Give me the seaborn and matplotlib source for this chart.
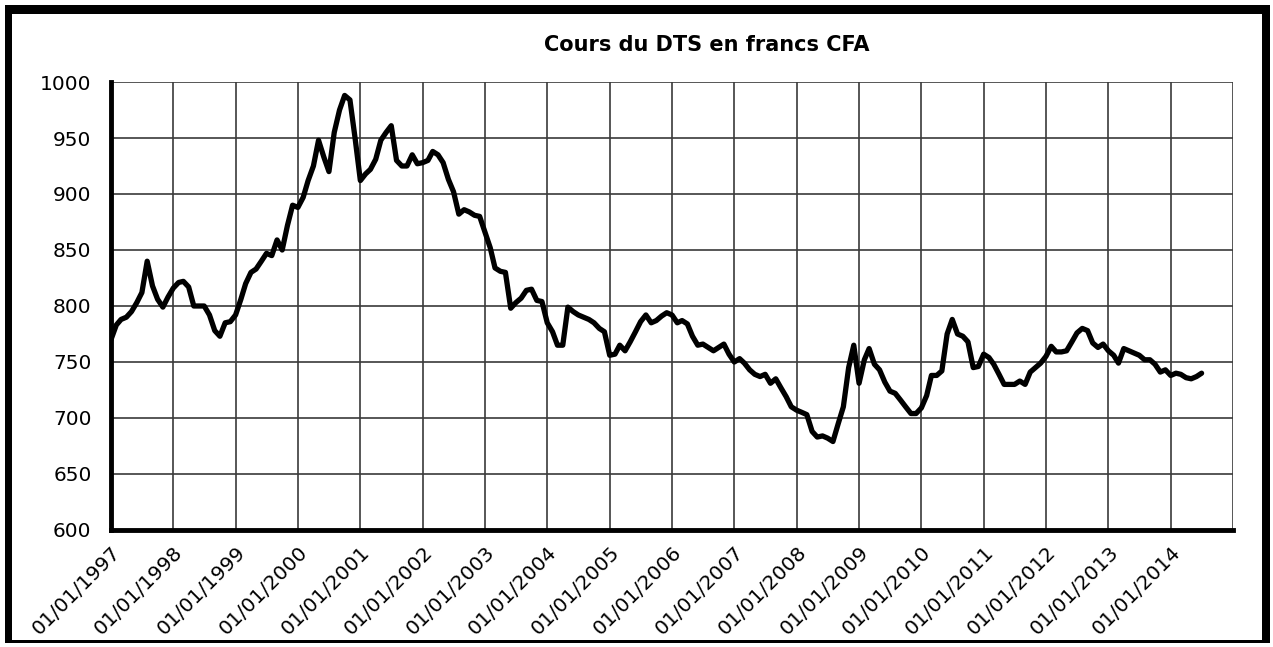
import pandas as pd
import numpy as np
import matplotlib.pyplot as plt
from matplotlib.patches import Rectangle
import seaborn as sns

# Monthly values (francs CFA per SDR), Jan 1997 -> Jul 2014
y1997 = [770, 783, 788, 790, 795, 803, 812, 840, 818, 806, 799, 808]
y1998 = [816, 821, 822, 817, 800, 800, 800, 792, 778, 773, 785, 786]
y1999 = [792, 806, 820, 830, 833, 840, 847, 845, 859, 850, 872, 890]
y2000 = [888, 897, 912, 925, 948, 933, 920, 955, 975, 988, 984, 950]
y2001 = [912, 918, 922, 931, 948, 955, 961, 930, 925, 925, 935, 927]
y2002 = [928, 930, 938, 935, 928, 913, 902, 882, 886, 884, 881, 880]
y2003 = [866, 852, 834, 831, 830, 798, 803, 807, 814, 815, 805, 804]
y2004 = [785, 777, 765, 765, 799, 795, 792, 790, 788, 785, 780, 777]
y2005 = [756, 757, 765, 760, 768, 777, 786, 792, 785, 787, 791, 794]
y2006 = [792, 785, 787, 784, 773, 765, 766, 763, 760, 763, 766, 757]
y2007 = [750, 753, 749, 743, 739, 737, 739, 731, 735, 727, 719, 710]
y2008 = [707, 705, 703, 688, 683, 684, 682, 679, 695, 710, 745, 765]
y2009 = [731, 752, 762, 748, 743, 732, 724, 722, 716, 710, 704, 704]
y2010 = [709, 720, 738, 738, 742, 775, 788, 775, 773, 768, 745, 746]
y2011 = [757, 754, 748, 739, 730, 730, 730, 733, 730, 741, 745, 749]
y2012 = [755, 764, 759, 759, 760, 768, 776, 780, 778, 767, 763, 766]
y2013 = [760, 756, 749, 762, 760, 758, 756, 752, 752, 748, 741, 743]
y2014 = [738, 740, 739, 736, 735, 737, 740]

years = list(range(1997, 2016))
tick_labels = ["01/01/%d" % y for y in years[:-1]] + [""]
y_ticks = [600, 650, 700, 750, 800, 850, 900, 950, 1000]

values = (y1997 + y1998 + y1999 + y2000 + y2001 + y2002 + y2003 + y2004 + y2005
          + y2006 + y2007 + y2008 + y2009 + y2010 + y2011 + y2012 + y2013 + y2014)
df = pd.DataFrame({
    "date": pd.date_range("1997-01-01", periods=len(values), freq="MS"),
    "dts": values,
})

sns.set_style("white")
plt.rcParams["font.family"] = ["DejaVu Sans"]
plt.rcParams["text.color"] = "black"
plt.rcParams["xtick.color"] = "black"
plt.rcParams["ytick.color"] = "black"
plt.rcParams["axes.edgecolor"] = "black"

fig = plt.figure(figsize=(12.73, 6.47), dpi=100)
W, H = 1273, 647
ax = fig.add_axes([111 / W, 1 - 530 / H, (1233 - 111) / W, (530 - 82) / H])

# vertical grid lines (one per year) and horizontal ones
for y in years:
    ax.axvline(pd.Timestamp(f"{y}-01-01"), color="#3a3a3a", lw=1.2, zorder=1)
for v in y_ticks:
    ax.axhline(v, color="#3a3a3a", lw=1.2, zorder=1)

sns.lineplot(data=df, x="date", y="dts", color="black", linewidth=3.8, ax=ax, zorder=3)

ax.set_xlim(pd.Timestamp("1997-01-01"), pd.Timestamp("2015-01-01"))
ax.set_ylim(600, 1000)
ax.set_xticks([pd.Timestamp(f"{y}-01-01") for y in years])
ax.set_xticklabels(tick_labels, rotation=45, ha="right", rotation_mode="anchor", fontsize=14.5)
ax.set_yticks(y_ticks)
ax.set_yticklabels([str(v) for v in y_ticks], fontsize=14.5)
ax.tick_params(axis="y", direction="out", length=4, width=2, pad=10)
ax.tick_params(axis="x", direction="inout", length=6, width=2, pad=6)
ax.set_xlabel("")
ax.set_ylabel("")

for side in ["top", "right"]:
    ax.spines[side].set_visible(False)
ax.spines["left"].set_linewidth(3.5)
ax.spines["bottom"].set_linewidth(3.5)

fig.text(707 / W, 1 - 45 / H, "Cours du DTS en francs CFA", ha="center", va="center",
         fontsize=15, fontweight="bold")

# black frame around the whole picture
def px_rect(x0, y0, x1, y1):
    fig.add_artist(Rectangle((x0 / W, 1 - y1 / H), (x1 - x0) / W, (y1 - y0) / H,
                             transform=fig.transFigure, color="black", lw=0))

px_rect(5, 5, 1270, 14)
px_rect(5, 5, 12, 643)
px_rect(1262, 5, 1270, 643)
px_rect(5, 640, 1270, 643)

plt.savefig("out.png", dpi=100)
